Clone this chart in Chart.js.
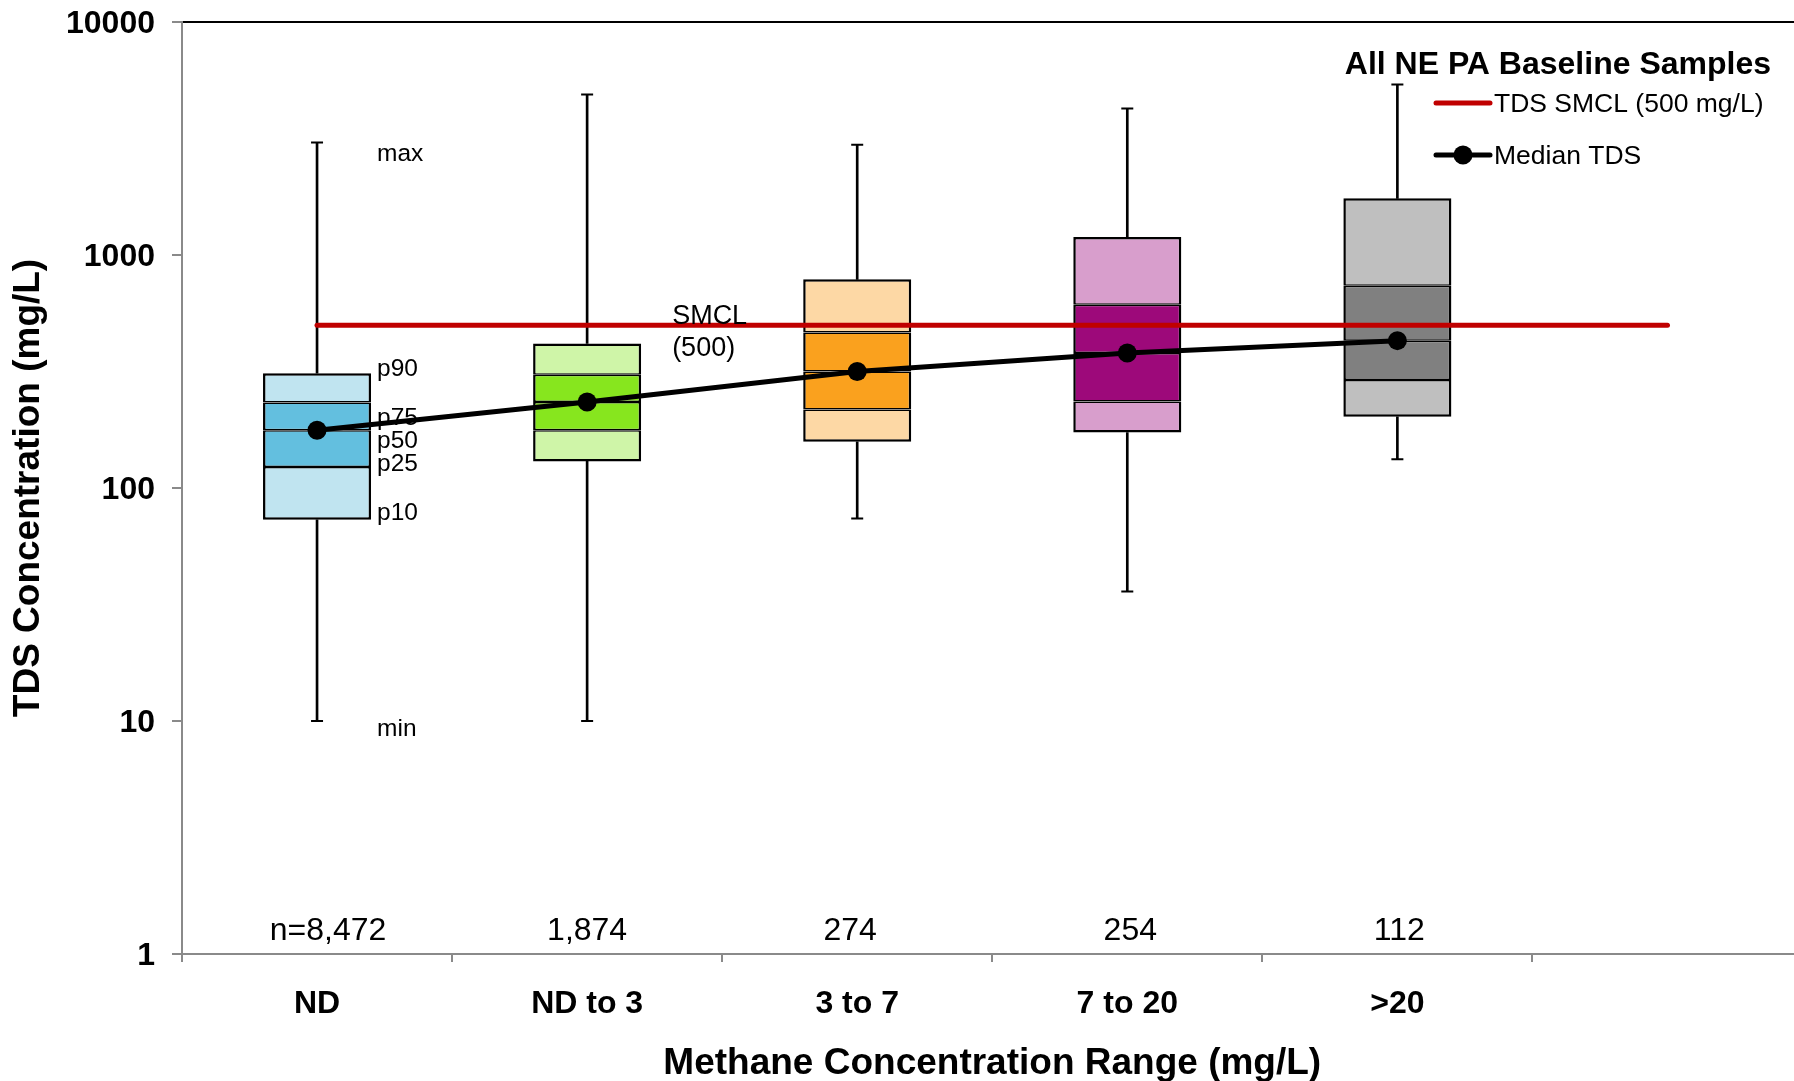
<!DOCTYPE html>
<html><head><meta charset="utf-8">
<script src="https://cdn.jsdelivr.net/npm/chart.js@4/dist/chart.umd.min.js"></script>
<style>
html,body{margin:0;padding:0;background:#fff;overflow:hidden;width:1794px;height:1081px}
#wrap{position:absolute;left:0;top:0;width:1812px;height:1081px}
</style>
</head><body><div id="wrap"><canvas id="c" width="1812" height="1081"></canvas></div>
<script>
// ---- data ----
const categories = ['ND', 'ND to 3', '3 to 7', '7 to 20', '>20', ''];
const nLabels = ['n=8,472', '1,874', '274', '254', '112'];
const minV = [10, 10, 74, 36, 133];
const p10 = [73, 130, 158, 173, 202];
const p25 = [123, 177, 217, 235, 291];
const p50 = [177, 234, 316, 380, 429];
const p75 = [233, 306, 465, 612, 738];
const p90 = [311, 417, 786, 1195, 1750];
const maxV = [3040, 4890, 2970, 4250, 5390];
const medianTDS = [177, 234, 316, 380, 429];
const smcl = 500;
const yTicks = [1, 10, 100, 1000, 10000];
const statLabels = ['max', 'p90', 'p75', 'p50', 'p25', 'p10', 'min'];
const xTitle = 'Methane Concentration Range (mg/L)';
const yTitle = 'TDS Concentration (mg/L)';
const legendTitle = 'All NE PA Baseline Samples';
const smclLabel = ['SMCL', '(500)'];

// ---- styles ----
const FONT = '"Liberation Sans", Arial, Helvetica, sans-serif';
const lightColors = ['#C0E4F0', '#CFF5A8', '#FDD8A5', '#D89ECC', '#BFBFBF'];
const darkColors = ['#63BFDF', '#87E61E', '#FAA11E', '#9D097A', '#808080'];
const AXIS_GRAY = '#8a8a8a';
const nLabelNudge = [11, 0, -7, 3, 2];

const segStyle = {
  type: 'bar', grouped: false, barPercentage: 0.4, categoryPercentage: 1,
  borderColor: '#000', borderSkipped: false, order: 4
};
const whiskerStyle = {
  type: 'bar', grouped: false, barThickness: 2, backgroundColor: '#000',
  borderWidth: 0, order: 5
};
const capStyle = {
  type: 'line', showLine: false, pointStyle: 'line', pointRadius: 6,
  pointBorderWidth: 2, pointBorderColor: '#000', pointBackgroundColor: '#000', order: 3
};

const datasets = [
  {...whiskerStyle, label: 'upper whisker', data: p90.map((v, i) => [v, maxV[i]])},
  {...whiskerStyle, label: 'lower whisker', data: minV.map((v, i) => [v, p10[i]])},
  {...segStyle, label: 'p10-p25', data: p10.map((v, i) => [v, p25[i]]), backgroundColor: lightColors,
    borderWidth: {left: 2.5, right: 2.5, bottom: 2.5, top: 1.5}},
  {...segStyle, label: 'p25-p50', data: p25.map((v, i) => [v, p50[i]]), backgroundColor: darkColors,
    borderWidth: {left: 2.5, right: 2.5, bottom: 1.5, top: 1.5}},
  {...segStyle, label: 'p50-p75', data: p50.map((v, i) => [v, p75[i]]), backgroundColor: darkColors,
    borderWidth: {left: 2.5, right: 2.5, bottom: 1.5, top: 1.5}},
  {...segStyle, label: 'p75-p90', data: p75.map((v, i) => [v, p90[i]]), backgroundColor: lightColors,
    borderWidth: {left: 2.5, right: 2.5, bottom: 1.5, top: 2.5}},
  {...capStyle, label: 'max cap', data: maxV},
  {...capStyle, label: 'min cap', data: minV},
  {type: 'line', label: 'TDS SMCL (500 mg/L)', data: categories.map(() => smcl),
    borderColor: '#C00000', borderWidth: 5, borderCapStyle: 'round', pointRadius: 0, order: 2},
  {type: 'line', label: 'Median TDS', data: medianTDS, borderColor: '#000', borderWidth: 5,
    pointRadius: 9.5, pointBackgroundColor: '#000', pointBorderWidth: 0, order: 1}
];

function font(size, bold) { return (bold ? 'bold ' : '') + size + 'px ' + FONT; }

const annotate = {
  id: 'annotate',
  afterDatasetsDraw(chart) {
    const {ctx, scales: {x, y}} = chart;
    ctx.save();
    ctx.fillStyle = '#000';
    // n counts
    ctx.font = font(32, false);
    ctx.textAlign = 'center';
    ctx.textBaseline = 'middle';
    nLabels.forEach((t, i) => {
      ctx.fillText(t, x.getPixelForValue(i) + nLabelNudge[i], y.getPixelForValue(1) - 23);
    });
    // stat labels next to first box
    const vals = [maxV[0], p90[0], p75[0], p50[0], p25[0], p10[0], minV[0]];
    const dy = [11.5, -3.5, 15.5, 11.5, -2.5, -6.5, 8.5];
    ctx.font = font(24.5, false);
    ctx.textAlign = 'left';
    const lx = x.getPixelForValue(0) + 60;
    statLabels.forEach((t, k) => {
      ctx.fillText(t, lx, y.getPixelForValue(vals[k]) + dy[k]);
    });
    // SMCL label
    ctx.font = font(27, false);
    const sy = y.getPixelForValue(smcl);
    const sx = x.getPixelForValue(1) + 85;
    ctx.fillText(smclLabel[0], sx, sy - 9);
    ctx.fillText(smclLabel[1], sx, sy + 23);
    // legend
    ctx.font = font(32, true);
    ctx.textAlign = 'right';
    ctx.fillText(legendTitle, 1771, 65);
    ctx.font = font(26.5, false);
    ctx.textAlign = 'left';
    const lx0 = 1436, lx1 = 1490;
    ctx.lineCap = 'round';
    ctx.strokeStyle = '#C00000';
    ctx.lineWidth = 5;
    ctx.beginPath(); ctx.moveTo(lx0, 103); ctx.lineTo(lx1, 103); ctx.stroke();
    ctx.fillText(datasets[8].label, 1494, 104.5);
    ctx.strokeStyle = '#000';
    ctx.lineWidth = 5;
    ctx.beginPath(); ctx.moveTo(lx0, 155); ctx.lineTo(lx1, 155); ctx.stroke();
    ctx.beginPath(); ctx.arc((lx0 + lx1) / 2, 155, 9.5, 0, Math.PI * 2); ctx.fill();
    ctx.fillText(datasets[9].label, 1494, 156.5);
    ctx.restore();
  }
};

new Chart(document.getElementById('c'), {
  type: 'bar',
  data: {labels: categories, datasets},
  options: {
    responsive: false,
    animation: false,
    layout: {padding: {top: 22, right: 0, left: 0, bottom: 0}},
    plugins: {legend: {display: false}, tooltip: {enabled: false}},
    scales: {
      x: {
        type: 'category', labels: categories, offset: true, position: 'bottom',
        grid: {display: true, drawOnChartArea: false, offset: true, tickLength: 8, color: AXIS_GRAY, lineWidth: 2},
        border: {display: true, color: AXIS_GRAY, width: 2},
        ticks: {font: {family: FONT, size: 32, weight: 'bold'}, color: '#000', padding: 23, maxRotation: 0, autoSkip: false},
        title: {display: true, text: xTitle, color: '#000',
          font: {family: FONT, size: 37, weight: 'bold', lineHeight: 0.93}, padding: {top: 0, bottom: 0}},
        afterFit: s => { s.height = 127; s.paddingLeft = 0; s.paddingRight = 0; }
      },
      xTop: {
        type: 'category', labels: categories, offset: true, position: 'top', display: true,
        grid: {display: false},
        border: {display: true, color: '#000', width: 2},
        ticks: {display: false},
        afterFit: s => { s.height = 0; s.paddingLeft = 0; s.paddingRight = 0; }
      },
      y: {
        type: 'logarithmic', min: 1, max: 10000, position: 'left',
        afterBuildTicks: s => { s.ticks = yTicks.map(v => ({value: v})); },
        grid: {display: true, drawOnChartArea: false, tickLength: 10, color: AXIS_GRAY, lineWidth: 2},
        border: {display: true, color: AXIS_GRAY, width: 2},
        ticks: {font: {family: FONT, size: 32, weight: 'bold'}, color: '#000', padding: 17, labelOffset: 2,
          autoSkip: false, callback: v => String(v)},
        title: {display: true, text: yTitle, color: '#000',
          font: {family: FONT, size: 37, weight: 'bold', lineHeight: 1}, padding: {top: 10, bottom: 0}},
        afterFit: s => { s.width = 182; s.paddingTop = 0; s.paddingBottom = 0; }
      }
    }
  },
  plugins: [annotate]
});
</script>
</body></html>
